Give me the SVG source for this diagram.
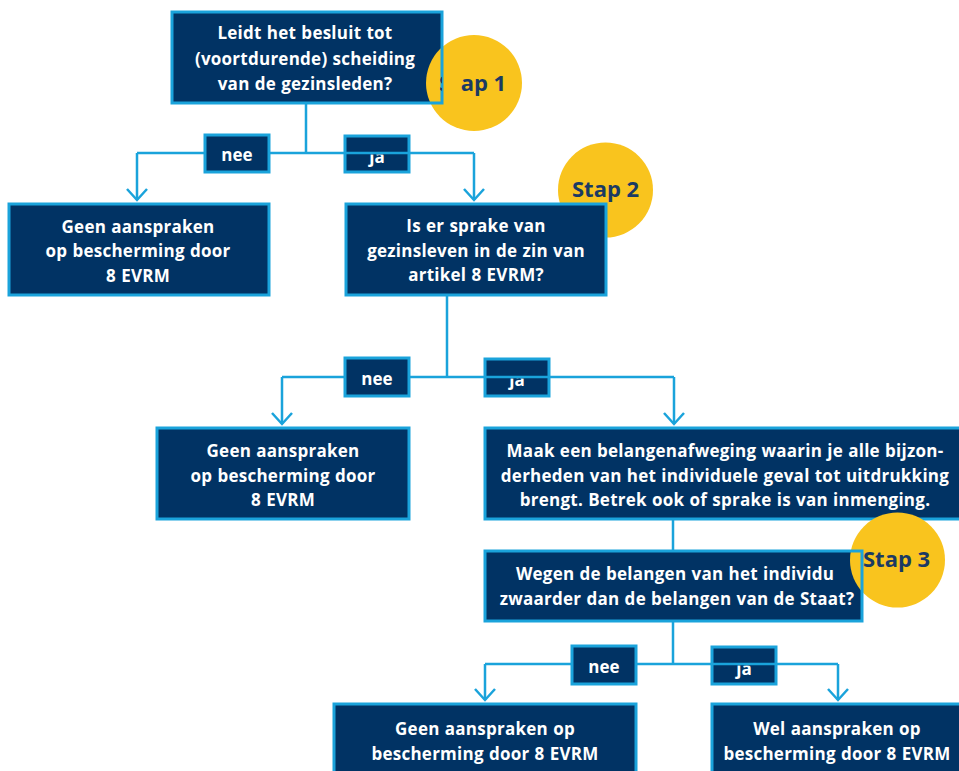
<svg xmlns="http://www.w3.org/2000/svg" width="959" height="771" viewBox="0 0 959 771">
<style>
.fill{fill:#013364;stroke:none}
.brd{fill:none;stroke:#1aa3db;stroke-width:3}
.box{fill:#013364;stroke:#1aa3db;stroke-width:3}
.t{font-family:"Open Sans","DejaVu Sans",sans-serif;font-weight:bold;font-size:17px;letter-spacing:0.25px;word-spacing:0.5px;fill:#ffffff;text-anchor:middle}
.lbl{font-family:"Open Sans","DejaVu Sans",sans-serif;font-weight:bold;font-size:17px;fill:#ffffff;text-anchor:middle}
.stap{font-family:"Open Sans","DejaVu Sans",sans-serif;font-weight:bold;font-size:22px;fill:#1b3a63}
.sun{fill:#f9c41e}
.ln{fill:none;stroke:#1aa3db;stroke-width:2.5}
</style>
<defs>
<clipPath id="cS1"><rect x="430" y="40" width="12" height="80"/><rect x="461" y="40" width="80" height="80"/></clipPath>
<clipPath id="cJ1"><rect x="340" y="154.5" width="80" height="30"/></clipPath>
<clipPath id="cJ2"><rect x="480" y="378.5" width="80" height="30"/></clipPath>
<clipPath id="cJ3"><rect x="705" y="665.5" width="80" height="30"/></clipPath>
</defs>

<g id="node-q1">
<rect class="fill" x="172" y="12" width="270" height="91"/>
<circle class="sun" cx="474" cy="83" r="48"/>
<rect class="brd" x="172" y="12" width="270" height="91"/>
<text class="t" x="305" y="39">Leidt het besluit tot</text>
<text class="t" x="305" y="65">(voortdurende) scheiding</text>
<text class="t" x="305" y="90">van de gezinsleden?</text>
<text class="stap" x="439" y="91" clip-path="url(#cS1)">Stap 1</text>
</g>

<g id="node-stap2">
<circle class="sun" cx="605.5" cy="190" r="47.5"/>
<text class="stap" x="572" y="197">Stap 2</text>
</g>

<g id="node-geen1">
<rect class="box" x="9" y="204" width="260" height="91"/>
<text class="t" x="138" y="233">Geen aanspraken</text>
<text class="t" x="138" y="257">op bescherming door</text>
<text class="t" x="138" y="282">8 EVRM</text>
</g>

<g id="node-q2">
<rect class="box" x="346" y="204" width="260" height="91"/>
<text class="t" x="476" y="232">Is er sprake van</text>
<text class="t" x="476" y="257">gezinsleven in de zin van</text>
<text class="t" x="476" y="281">artikel 8 EVRM?</text>
</g>

<g id="node-geen2">
<rect class="box" x="157" y="428" width="252" height="91"/>
<text class="t" x="283" y="457">Geen aanspraken</text>
<text class="t" x="283" y="482">op bescherming door</text>
<text class="t" x="283" y="506">8 EVRM</text>
</g>

<g id="node-afweging">
<rect class="box" x="485" y="428" width="480" height="91"/>
<text class="t" x="725" y="457">Maak een belangenafweging waarin je alle bijzon-</text>
<text class="t" x="725" y="482">derheden van het individuele geval tot uitdrukking</text>
<text class="t" x="725" y="506">brengt. Betrek ook of sprake is van inmenging.</text>
</g>

<g id="node-q3">
<rect class="fill" x="485" y="551" width="377" height="70"/>
<circle class="sun" cx="897.5" cy="560" r="47.5"/>
<rect class="brd" x="485" y="551" width="377" height="70"/>
<text class="t" x="675" y="580">Wegen de belangen van het individu</text>
<text class="t" x="677" y="605">zwaarder dan de belangen van de Staat?</text>
<text class="stap" x="863" y="567">Stap 3</text>
</g>

<g id="node-geen3">
<rect class="box" x="334" y="704" width="302" height="80"/>
<text class="t" x="485" y="735">Geen aanspraken op</text>
<text class="t" x="485" y="760">bescherming door 8 EVRM</text>
</g>

<g id="node-wel">
<rect class="box" x="712" y="704" width="260" height="80"/>
<text class="t" x="837" y="735">Wel aanspraken op</text>
<text class="t" x="837" y="760">bescherming door 8 EVRM</text>
</g>

<g id="labels-ja">
<rect class="box" x="345" y="136" width="64" height="36"/>
<text class="lbl" x="377" y="163" clip-path="url(#cJ1)">ja</text>
<rect class="box" x="485" y="359" width="64" height="37"/>
<text class="lbl" x="517" y="386" clip-path="url(#cJ2)">ja</text>
<rect class="box" x="712" y="647" width="64" height="37"/>
<text class="lbl" x="744" y="675" clip-path="url(#cJ3)">ja</text>
</g>

<g id="connectors">
<path class="ln" d="M306 103V153M137 153H474M137 153V200M474 153V200"/>
<path class="ln" d="M127 189L137 200L147 189M464 189L474 200L484 189"/>
<path class="ln" d="M447 295V377M282 377H674M282 377V424M674 377V424"/>
<path class="ln" d="M272 413L282 424L292 413M664 413L674 424L684 413"/>
<path class="ln" d="M673 519V551"/>
<path class="ln" d="M673 621V664M485 664H838M485 664V700M838 664V700"/>
<path class="ln" d="M475 689L485 700L495 689M828 689L838 700L848 689"/>
</g>

<g id="labels-nee">
<rect class="box" x="205" y="135" width="64" height="37"/>
<text class="lbl" x="237" y="161">nee</text>
<rect class="box" x="345" y="358" width="64" height="38"/>
<text class="lbl" x="377" y="385">nee</text>
<rect class="box" x="572" y="646" width="64" height="38"/>
<text class="lbl" x="604" y="673">nee</text>
</g>
</svg>
